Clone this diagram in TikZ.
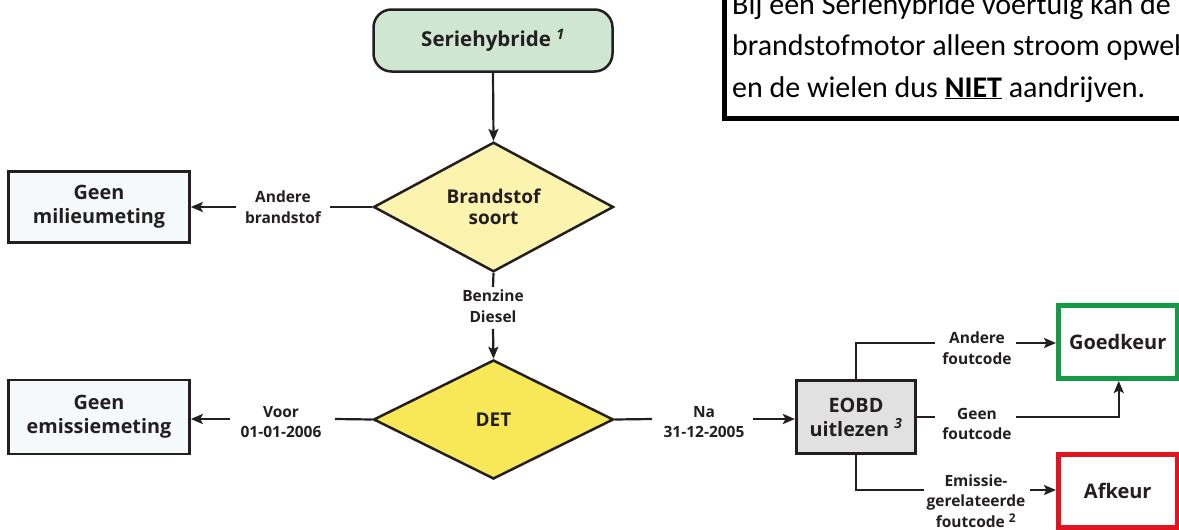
\documentclass[tikz,border=0pt]{standalone}
\usepackage{fontspec}
\setmainfont{Open Sans}
\newfontfamily\notefont{Carlito}
\usetikzlibrary{shapes.geometric,arrows.meta,calc}
\definecolor{txt}{HTML}{231F20}
\definecolor{serfill}{HTML}{CFE6D1}
\definecolor{bsfill}{HTML}{FBF3AE}
\definecolor{detfill}{HTML}{F8E858}
\definecolor{boxfill}{HTML}{F6F9F9}
\definecolor{eobdfill}{HTML}{E1E1E1}
\definecolor{okgreen}{HTML}{179A45}
\definecolor{badred}{HTML}{E2141F}
\tikzset{
  every node/.style={text=txt},
  conn/.style={draw=txt,line width=2.2pt},
  arr/.style={conn,-{Stealth[length=12pt,width=10pt,inset=2.5pt]}},
  plainbox/.style={draw=txt,line width=2.6pt,fill=boxfill,align=center,inner sep=0pt,
    font=\fontsize{19.8}{24}\selectfont\bfseries},
  decision/.style={diamond,draw=txt,line width=2.5pt,align=center,inner sep=0pt,
    font=\fontsize{19}{21}\selectfont\bfseries},
  lab/.style={align=center,inner sep=0pt,font=\fontsize{15.5}{20.5}\selectfont\bfseries},
  resultbox/.style={line width=5pt,fill=white,align=center,inner sep=0pt,
    font=\fontsize{20}{24}\selectfont\bfseries,minimum width=118.5pt,minimum height=73pt},
  noteline/.style={anchor=base west,inner sep=0pt,text=black,
    font=\notefont\fontsize{30}{36}\selectfont}
}
\begin{document}
\begin{tikzpicture}[x=1pt,y=-1pt]
\useasboundingbox (0,0) rectangle (1179,530);
\clip (0,0) rectangle (1179,530);
% note box
\node[draw=black,line width=5pt,fill=white,anchor=south west,inner sep=0pt,
  minimum width=520pt,minimum height=160pt] (note) at (721.5,120.5) {};
\node[noteline] (nt1) at (732,14) {Bij een Seriehybride voertuig kan de};
\node[noteline] (nt2) at (732,55.5) {brandstofmotor alleen stroom opwekken};
\node[noteline] (nt3) at (732,97) {en de wielen dus \underline{\textbf{NIET}} aandrijven.};
% main nodes
\node[draw=txt,line width=2.5pt,fill=serfill,rounded corners=18pt,minimum width=239pt,
  minimum height=62pt,inner sep=0pt,font=\fontsize{20.5}{24}\selectfont\bfseries]
  (ser) at (493,40.5) {Seriehybride \textsuperscript{\itshape 1}};
\node[decision,fill=bsfill,minimum width=240pt,minimum height=118pt] (bs) at (493.5,207)
  {Brandstof\\soort};
\node[decision,fill=detfill,minimum width=240pt,minimum height=119pt] (det) at (493.5,419.5)
  {DET};
\node[plainbox,minimum width=181pt,minimum height=71pt] (gm) at (99,207) {Geen\\milieumeting};
\node[plainbox,minimum width=181pt,minimum height=74pt] (ge) at (99,417) {Geen\\emissiemeting};
\node[plainbox,fill=eobdfill,minimum width=119.5pt,minimum height=73.5pt] (eobd) at (856,417)
  {EOBD\\uitlezen \textsuperscript{\itshape 3}};
\node[resultbox,draw=okgreen] (goed) at (1117.75,342) {Goedkeur};
\node[resultbox,draw=badred,minimum height=72.5pt] (afk) at (1117.75,490.75) {Afkeur};
% labels
\node[lab] (l1) at (283,207) {Andere\\brandstof};
\node[lab] (l2) at (493,306) {Benzine\\Diesel};
\node[lab] (l3) at (281,422) {Voor\\01-01-2006};
\node[lab] (l4) at (704,422) {Na\\31-12-2005};
\node[lab] (l5) at (977,348) {Andere\\foutcode};
\node[lab] (l6) at (977,424) {Geen\\foutcode};
\node[lab] (l7) at (976,501) {Emissie-\\gerelateerde\\foutcode \textsuperscript{\large 2}};
% coordinates for line gaps
\coordinate (a1) at (330,207); \coordinate (a2) at (236,207);
\coordinate (b1) at (493,287); \coordinate (b2) at (493,329);
\coordinate (v1) at (335,419); \coordinate (v2) at (230,419);
\coordinate (n1) at (652,419); \coordinate (n2) at (753,419);
\coordinate (g1) at (935,343); \coordinate (g2) at (1016,343);
\coordinate (h1) at (935,417); \coordinate (h2) at (1016,417);
\coordinate (e1) at (924,490); \coordinate (e2) at (1030,490);
% connectors
\draw[arr] (ser.south) -- (bs.north);
\draw[conn] (bs.west) -- (a1);
\draw[arr] (a2) -- (gm.east |- a2);
\draw[conn] (bs.south) -- (b1);
\draw[arr] (b2) -- (det.north);
\draw[conn] (det.west) -- (v1);
\draw[arr] (v2) -- (ge.east |- v2);
\draw[conn] (det.east) -- (n1);
\draw[arr] (n2) -- (eobd.west |- n2);
\draw[conn] (eobd.north) |- (g1);
\draw[arr] (g2) -- (goed.west |- g2);
\draw[conn] (eobd.east) -- (h1);
\draw[arr] (h2) -| ([xshift=1pt]goed.south);
\draw[conn] (eobd.south) |- (e1);
\draw[arr] (e2) -- (afk.west |- e2);
\end{tikzpicture}
\end{document}
